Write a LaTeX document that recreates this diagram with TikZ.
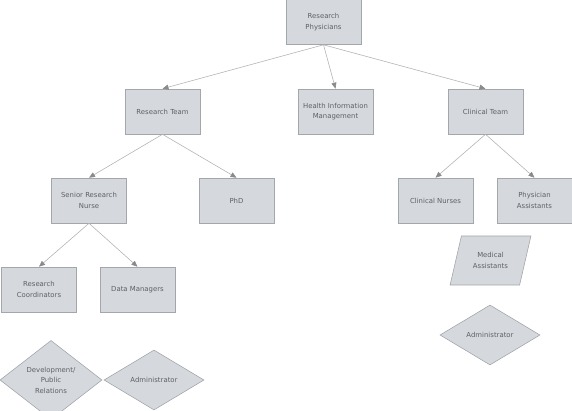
\documentclass[tikz,border=0pt]{standalone}
\usepackage{fontspec}
\setmainfont{DejaVu Sans}
\usepackage{xcolor}
\usetikzlibrary{shapes.geometric}
\usetikzlibrary{arrows.meta}

\definecolor{boxfill}{HTML}{D5D9DD}
\definecolor{boxline}{HTML}{A3A7AB}
\definecolor{boxtext}{HTML}{5E6164}
\definecolor{linkline}{HTML}{B4B4B4}
\definecolor{linktip}{HTML}{8A8A8A}

\begin{document}
\begin{tikzpicture}[
    x=1pt, y=-1pt,
    every node/.style = {
        draw=boxline, fill=boxfill, text=boxtext, align=center,
        font=\fontsize{6.9}{10.5}\selectfont, inner sep=1pt, line width=0.6pt
    },
    box/.style = {rectangle, minimum width=75pt, minimum height=45pt},
    rhombus/.style = {diamond, minimum width=100pt, minimum height=60pt},
    slanted/.style = {
        trapezium, trapezium left angle=68, trapezium right angle=112,
        trapezium stretches, minimum width=81pt, minimum height=49pt
    },
    link/.style = {
        draw=linkline, line width=0.6pt,
        -{Triangle[length=6pt, width=5pt, color=linktip]}
    }
]
\useasboundingbox (0,0) rectangle (572,411);

% top level
\node[box] (physicians) at (323.5,22) {Research\\Physicians};

% second level
\node[box] (researchteam) at (162.5,111.5) {Research Team};
\node[box] (healthinfo) at (335.5,111.5) {Health Information\\Management};
\node[box] (clinicalteam) at (485.5,111.5) {Clinical Team};

% third level
\node[box] (seniornurse) at (89,200.5) {Senior Research\\Nurse};
\node[box] (phd) at (236.5,200.5) {PhD};
\node[box] (clinicalnurses) at (435.5,200.5) {Clinical Nurses};
\node[box] (physicianasst) at (534.5,200.5) {Physician\\Assistants};

% fourth level
\node[box] (coordinators) at (39,289.5) {Research\\Coordinators};
\node[box] (datamanagers) at (137.5,289.5) {Data Managers};
\node[slanted] (medicalasst) at (490.5,260.5) {Medical\\Assistants};

% loose shapes
\node[rhombus, minimum width=102pt, minimum height=62pt] (devrelations) at (51,380) {Development/\\Public\\Relations};
\node[rhombus] (adminleft) at (154,380) {Administrator};
\node[rhombus] (adminright) at (490,335) {Administrator};

\draw[link] (physicians.south) -- (researchteam.north);
\draw[link] (physicians.south) -- (healthinfo.north);
\draw[link] (physicians.south) -- (clinicalteam.north);
\draw[link] (researchteam.south) -- (seniornurse.north);
\draw[link] (researchteam.south) -- (phd.north);
\draw[link] (clinicalteam.south) -- (clinicalnurses.north);
\draw[link] (clinicalteam.south) -- (physicianasst.north);
\draw[link] (seniornurse.south) -- (coordinators.north);
\draw[link] (seniornurse.south) -- (datamanagers.north);
\end{tikzpicture}
\end{document}
